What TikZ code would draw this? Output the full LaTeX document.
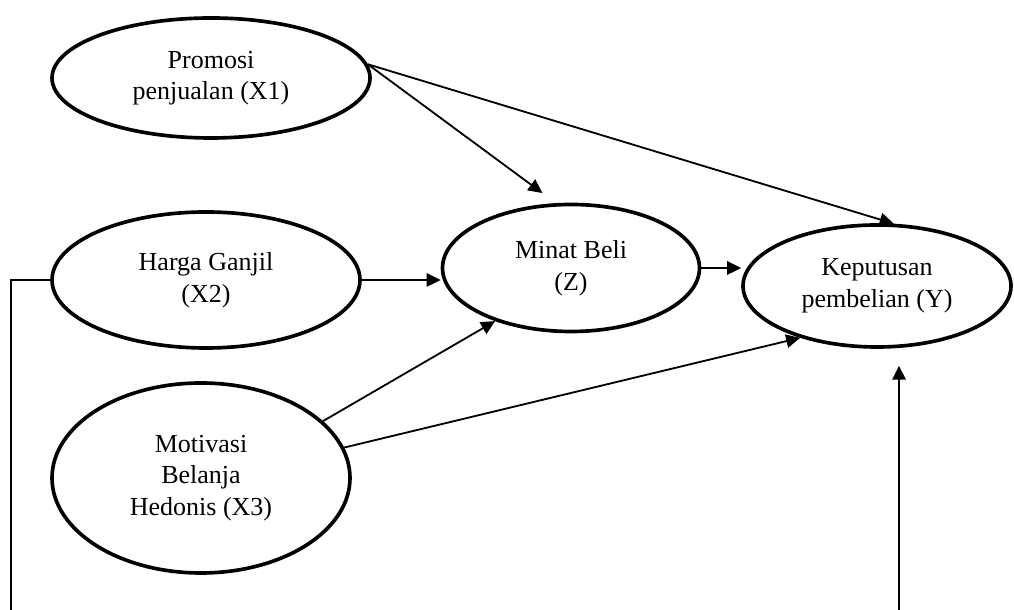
\documentclass[tikz,border=0pt]{standalone}
\usepackage{fontspec}
\setmainfont{Liberation Serif}
\usetikzlibrary{shapes.geometric,positioning,arrows.meta}

\begin{document}
\begin{tikzpicture}[node distance=5cm,on grid,
		var/.style={ellipse,draw,line width=2.6pt,align=center,inner sep=0pt,font=\fontsize{18.5}{22.5}\selectfont},
		>={Triangle[length=10pt,width=9.5pt]},
		every edge/.style={draw,line width=1.3pt}]
	\useasboundingbox (0,0) rectangle (25.35,15.25);
			\node[var,minimum width=7.95cm,minimum height=3cm] (x1) at (5.275,13.3) {Promosi\\penjualan (X1)};
			\node[var,minimum width=7.7cm,minimum height=3.4cm] (x2) [below left=5.05cm and 0.125cm of x1] {Harga Ganjil\\(X2)};
			\node[var,minimum width=7.45cm,minimum height=4.75cm] (x3) [below left=4.95cm and 0.125cm of x2] {Motivasi\\Belanja\\Hedonis (X3)};
			\node[var,minimum width=6.425cm,minimum height=3.175cm] (z) [above right=0.3cm and 9.125cm of x2] {Minat Beli\\(Z)};
				\path[->] (x1.5) edge[shorten >=12pt] (z.103);
				\path[->] (x2.east) edge (x2.east -| z.west);
				\path[->] (x3.25) edge (z.215);
			\node[var,minimum width=6.7cm,minimum height=3.05cm] (y) [below right=0.45cm and 7.65cm of z] {Keputusan\\pembelian (Y)};
				\path[->] (x1.5) edge (y.75);
				\path[->] (z.east) edge (z.east -| y.west);
				\path[->] (x3.12) edge (y.214);
			% line from X2 runs off the bottom and comes back up into Y
			\coordinate (lb) at (0.275,0);
			\coordinate (rb) at (22.475,0);
				\draw[line width=1.1pt] (x2.west) -| (lb);
				\draw[->,line width=1.6pt,shorten >=12pt] (rb) -- (rb |- y.south);
\end{tikzpicture}
\end{document}
